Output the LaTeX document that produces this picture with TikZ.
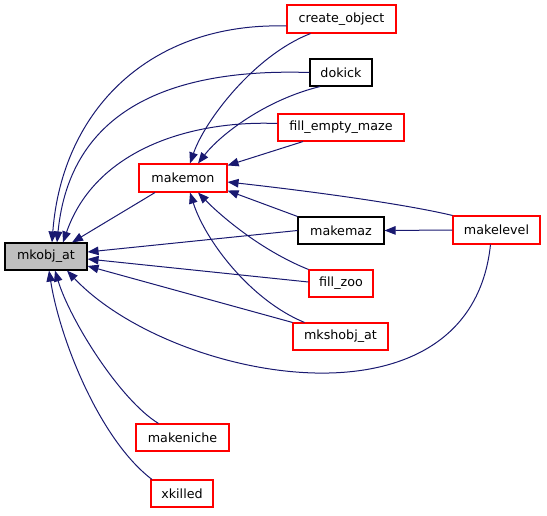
\documentclass[tikz,border=0pt]{standalone}
\usepackage{fontspec}
\setmainfont{DejaVu Sans}
\usetikzlibrary{arrows.meta}
\definecolor{CGEdge}{HTML}{191970}
\definecolor{CGRed}{HTML}{FF0000}
\definecolor{CGFill}{HTML}{BFBFBF}

\begin{document}
\begin{tikzpicture}[x=1pt,y=-1pt,
  fn/.style={draw=CGRed, line width=1.1pt, inner sep=0pt, minimum height=27pt, font=\fontsize{12.7}{14}\selectfont},
  call/.style={CGEdge, line width=1pt, -{Triangle[length=11pt,width=8.5pt]}}]
  \useasboundingbox (0,0) rectangle (547,515);
  % functions
  \node[fn, draw=black, fill=CGFill, minimum width=82pt] (mkobjat) at (46,256.5) {mkobj\_at};
  \node[fn, minimum width=88pt, minimum height=28pt] (makemon) at (183,178) {makemon};
  \node[fn, minimum width=109pt, minimum height=28pt] (createobject) at (341.5,19) {create\_object};
  \node[fn, draw=black, minimum width=62pt] (dokick) at (341,72.5) {dokick};
  \node[fn, minimum width=126pt] (fillemptymaze) at (341,127.5) {fill\_empty\_maze};
  \node[fn, draw=black, minimum width=86pt] (makemaz) at (341,230.5) {makemaz};
  \node[fn, minimum width=87pt, minimum height=28pt] (makelevel) at (496.5,230) {makelevel};
  \node[fn, minimum width=64pt] (fillzoo) at (341,283.5) {fill\_zoo};
  \node[fn, minimum width=95pt] (mkshobjat) at (340.5,336.5) {mkshobj\_at};
  \node[fn, minimum width=93pt] (makeniche) at (182.5,437.5) {makeniche};
  \node[fn, minimum width=62pt] (xkilled) at (182,493.5) {xkilled};

  % callers of mkobj_at
  \draw[call] ([yshift=-7pt]createobject.west) .. controls (150,22) and (62,110) .. ([xshift=6pt]mkobjat.north);
  \draw[call] (dokick.west) .. controls (170,68) and (70,110) .. ([xshift=11pt]mkobjat.north);
  \draw[call] ([yshift=4pt]fillemptymaze.west) .. controls (190,120) and (95,150) .. ([xshift=17pt]mkobjat.north);
  \draw[call] ([xshift=-28pt]makemon.south) -- ([xshift=26pt]mkobjat.north);
  \draw[call] (makemaz.west) -- ([yshift=4.5pt]mkobjat.east);
  \draw[call] ([yshift=1.5pt]fillzoo.west) -- ([yshift=-2.5pt]mkobjat.east);
  \draw[call] (mkshobjat.north west) -- ([yshift=-9.5pt]mkobjat.east);
  \draw[call] ([xshift=-6pt]makelevel.south) .. controls (470,440) and (170,380) .. ([xshift=21pt]mkobjat.south);
  \draw[call] ([xshift=-24pt]makeniche.north) .. controls (120,400) and (70,320) .. ([xshift=9pt]mkobjat.south);
  \draw[call] ([xshift=-30pt]xkilled.north) .. controls (100,440) and (60,340) .. ([xshift=3pt]mkobjat.south);

  % callers of makemon
  \draw[call] ([xshift=-31pt]createobject.south) .. controls (255,55) and (205,120) .. ([xshift=7pt]makemon.north);
  \draw[call] ([xshift=-21pt]dokick.south) .. controls (265,100) and (220,135) .. ([xshift=15pt]makemon.north);
  \draw[call] ([xshift=-38pt]fillemptymaze.south) -- ([yshift=-2pt]makemon.north east);
  \draw[call] (makemaz.north west) -- ([yshift=2pt]makemon.south east);
  \draw[call] (makelevel.north west) .. controls (400,203) and (300,190) .. ([yshift=-4pt]makemon.east);
  \draw[call] (fillzoo.north west) .. controls (260,250) and (220,215) .. ([xshift=15pt]makemon.south);
  \draw[call] ([xshift=-36pt]mkshobjat.north) .. controls (250,300) and (205,240) .. ([xshift=7pt]makemon.south);

  % caller of makemaz
  \draw[call] (makelevel.west) -- (makemaz.east);
\end{tikzpicture}
\end{document}
